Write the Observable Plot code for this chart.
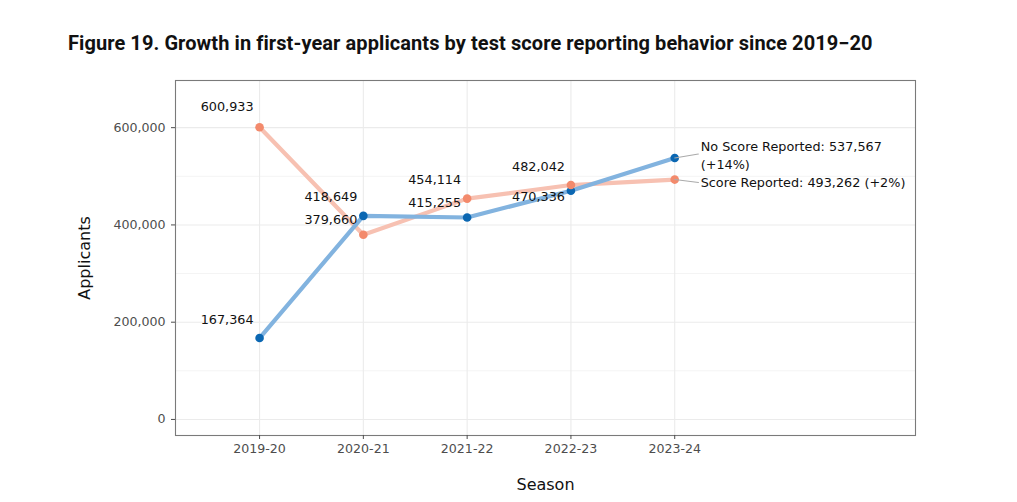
<!DOCTYPE html>
<html>
<head>
<meta charset="utf-8">
<script src="https://cdn.jsdelivr.net/npm/d3@7"></script>
<script src="https://cdn.jsdelivr.net/npm/@observablehq/plot@0.6"></script>
<style>
  body { margin: 0; background: #fff; }
  #wrap { width: 1017px; height: 502px; position: relative; overflow: hidden; }
  #title { height: 70px; box-sizing: border-box; padding: 31.5px 0 0 68px; white-space: nowrap;
           font-family: Roboto, sans-serif; font-weight: 700; font-size: 20px; letter-spacing: 0.08px;
           line-height: 1.17; color: #111; }
  #chart svg { display: block; }
</style>
</head>
<body>
<div id="wrap">
  <div id="title">Figure 19. Growth in first-year applicants by test score reporting behavior since 2019−20</div>
  <div id="chart"></div>
</div>
<script>
// Seasons on the x axis
const seasons = ["2019-20", "2020-21", "2021-22", "2022-23", "2023-24"];
// First-year applicants by test score reporting behavior
const seriesNames = ["No Score Reported", "Score Reported"];
const noScore = [167364, 418649, 415255, 470336, 537567];
const scoreReported = [600933, 379660, 454114, 482042, 493262];
// Y axis ticks
const yTicks = [0, 200000, 400000, 600000];
const yMinor = [100000, 300000, 500000];

// Label offsets (px) for the per-season value labels, so they don't collide
const nudgeNoScore = [[-6, -18.5], [-6, -19], [-6, -15], [-6, 6]];
const nudgeScore = [[-6, -20.5], [-6, -15], [-6, -19], [-6, -18]];

const fmt = d3.format(",");
const rows = [];
seasons.forEach((s, i) => {
  rows.push({series: seriesNames[0], i, value: noScore[i]});
  rows.push({series: seriesNames[1], i, value: scoreReported[i]});
});

const colors = {
  line: {[seriesNames[0]]: "#82b3df", [seriesNames[1]]: "#f7c1b2"},
  dot: {[seriesNames[0]]: "#0b67b2", [seriesNames[1]]: "#f38a6c"}
};

const last = seasons.length - 1;
function growth(arr) {
  const p = Math.round((arr[last] / arr[last - 1] - 1) * 100);
  return (p >= 0 ? "+" : "") + p + "%";
}

// value labels for each season except the last
const valueLabels = [];
for (let i = 0; i < last; i++) {
  valueLabels.push(Plot.text([{i, v: noScore[i]}], {
    x: "i", y: "v", text: d => fmt(d.v), textAnchor: "end",
    dx: nudgeNoScore[i][0], dy: nudgeNoScore[i][1], fill: "#111", fontSize: 12.8
  }));
  valueLabels.push(Plot.text([{i, v: scoreReported[i]}], {
    x: "i", y: "v", text: d => fmt(d.v), textAnchor: "end",
    dx: nudgeScore[i][0], dy: nudgeScore[i][1], fill: "#111", fontSize: 12.8
  }));
}

// leader segment from the last point to its end label
const leader = {
  draw(context, l) { context.moveTo(0, 0); context.lineTo(0, -l); }
};

const endRows = [
  {i: last, v: noScore[last], text: `${seriesNames[0]}: ${fmt(noScore[last])}\n(${growth(noScore)})`, rot: 80.5, dy: -4},
  {i: last, v: scoreReported[last], text: `${seriesNames[1]}: ${fmt(scoreReported[last])} (${growth(scoreReported)})`, rot: 97, dy: 3}
];

const chart = Plot.plot({
  width: 1017,
  height: 432,
  marginTop: 10,
  marginBottom: 67,
  marginLeft: 175,
  marginRight: 102,
  style: {fontFamily: "'DejaVu Sans', sans-serif", background: "#fff"},
  x: {type: "linear", domain: [-0.81, 6.32]},
  y: {domain: [-33000, 697000]},
  marks: [
    Plot.ruleY(yMinor, {stroke: "#f4f4f4", strokeWidth: 1}),
    Plot.ruleY(yTicks, {stroke: "#ebebeb", strokeWidth: 1.1}),
    Plot.ruleX(d3.range(seasons.length), {stroke: "#ebebeb", strokeWidth: 1.1}),
    Plot.frame({stroke: "#7a7a7a", strokeWidth: 1.1}),
    Plot.axisY(yTicks, {tickFormat: fmt, tickSize: 4, tickPadding: 6, color: "#4d4d4d", fontSize: 12.6, label: null}),
    Plot.axisX(d3.range(seasons.length), {tickFormat: i => seasons[i], tickSize: 4, tickPadding: 5, color: "#4d4d4d", fontSize: 12.6, label: null}),
    Plot.text(["Applicants"], {frameAnchor: "left", dx: -91, rotate: -90, textAnchor: "middle", lineAnchor: "middle", text: d => d, fontSize: 16, fill: "#111"}),
    Plot.text(["Season"], {frameAnchor: "bottom", dy: 49, textAnchor: "middle", lineAnchor: "middle", text: d => d, fontSize: 16, fill: "#111"}),
    Plot.line(rows.filter(d => d.series === seriesNames[1]), {x: "i", y: "value", stroke: colors.line[seriesNames[1]], strokeWidth: 4.2}),
    Plot.line(rows.filter(d => d.series === seriesNames[0]), {x: "i", y: "value", stroke: colors.line[seriesNames[0]], strokeWidth: 4.2}),
    Plot.dot(rows, {x: "i", y: "value", r: 4.3, fill: d => colors.dot[d.series], stroke: "none"}),
    ...valueLabels,
    Plot.vector(endRows, {x: "i", y: "v", length: 24, rotate: "rot", anchor: "start", shape: leader, stroke: "#aaaaaa", strokeWidth: 1}),
    Plot.text([endRows[0]], {x: "i", y: "v", text: "text", textAnchor: "start", dx: 26, dy: endRows[0].dy, lineHeight: 1.42, fill: "#111", fontSize: 12.8}),
    Plot.text([endRows[1]], {x: "i", y: "v", text: "text", textAnchor: "start", dx: 26, dy: endRows[1].dy, fill: "#111", fontSize: 12.8})
  ]
});
document.getElementById("chart").appendChild(chart);
</script>
</body>
</html>
